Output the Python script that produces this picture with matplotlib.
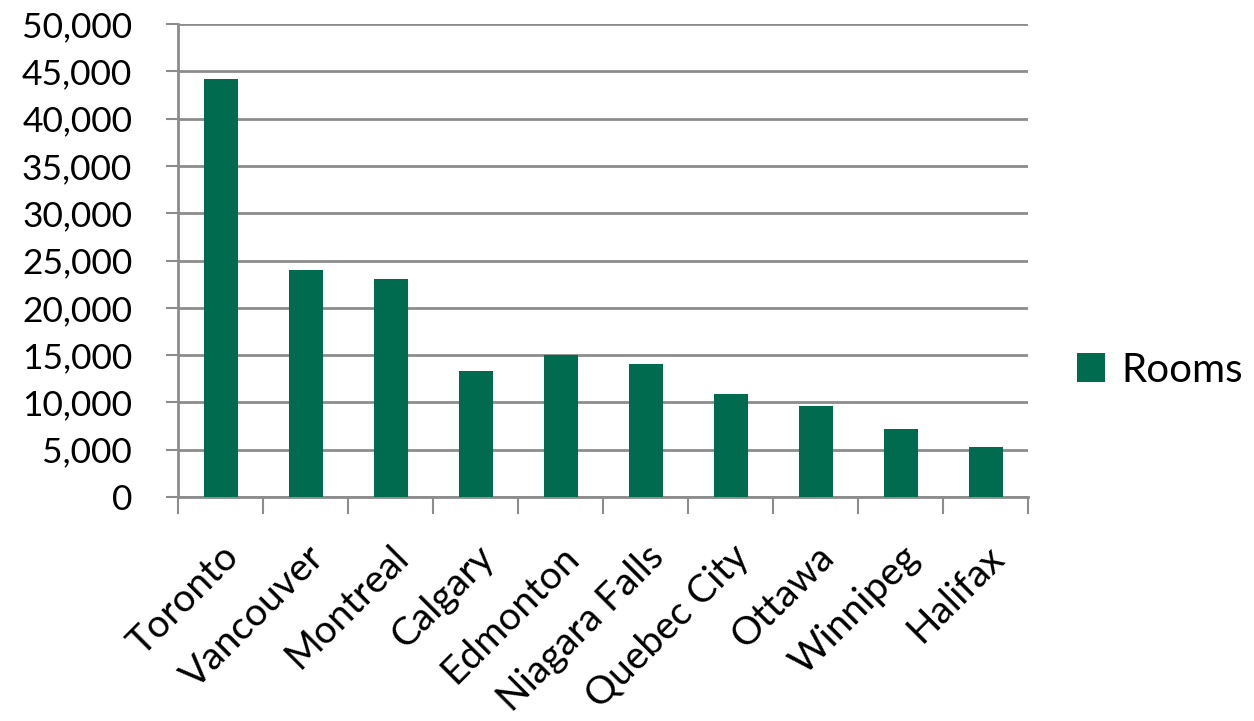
import matplotlib.pyplot as plt
from matplotlib.ticker import FuncFormatter, FixedLocator

# Hotel rooms by city
cities = ["Toronto", "Vancouver", "Montreal", "Calgary", "Edmonton",
          "Niagara Falls", "Quebec City", "Ottawa", "Winnipeg", "Halifax"]
rooms = [44150, 24000, 23050, 13350, 15030, 14080, 10850, 9650, 7180, 5320]

GREEN = "#006B4E"
GRID = "#8c8c8c"

plt.rcParams['font.family'] = ['Lato', 'DejaVu Sans']

fig = plt.figure(figsize=(12.54, 7.21), dpi=100)
ax = fig.add_axes([178 / 1254, 1 - 497 / 721, 850 / 1254, 473 / 721])

x = list(range(len(cities)))
ax.bar(x, rooms, width=0.4, color=GREEN, label="Rooms", zorder=3)

ax.set_xlim(-0.5, len(cities) - 0.5)
ax.set_ylim(0, 50000)
ax.set_yticks(range(0, 50001, 5000))
ax.yaxis.set_major_formatter(FuncFormatter(lambda v, p: f"{int(v):,}"))
ax.grid(axis='y', color=GRID, lw=2, zorder=0)

# category boundaries as x ticks, labels centred under bars
ax.xaxis.set_major_locator(FixedLocator([i - 0.5 for i in range(len(cities) + 1)]))
ax.xaxis.set_minor_locator(FixedLocator(x))
ax.set_xticklabels([])
ax.set_xticklabels(cities, minor=True, rotation=45, ha='right',
                   rotation_mode='anchor', fontsize=28)
ax.tick_params(axis='x', which='major', length=12, width=1.5, color=GRID)
ax.tick_params(axis='x', which='minor', length=0, pad=30)
ax.tick_params(axis='y', length=9, width=1.5, color=GRID, labelsize=25.5, pad=24)

for side in ('top', 'right'):
    ax.spines[side].set_visible(False)
for side in ('left', 'bottom'):
    ax.spines[side].set_color(GRID)
    ax.spines[side].set_linewidth(2)

fig.legend(loc='center left', bbox_to_anchor=(1069 / 1254, 1 - 370 / 721),
           frameon=False, fontsize=29, handlelength=0.7, handleheight=0.7,
           handletextpad=0.4, borderaxespad=0, borderpad=0.2)

fig.savefig("out.png", dpi=100)
